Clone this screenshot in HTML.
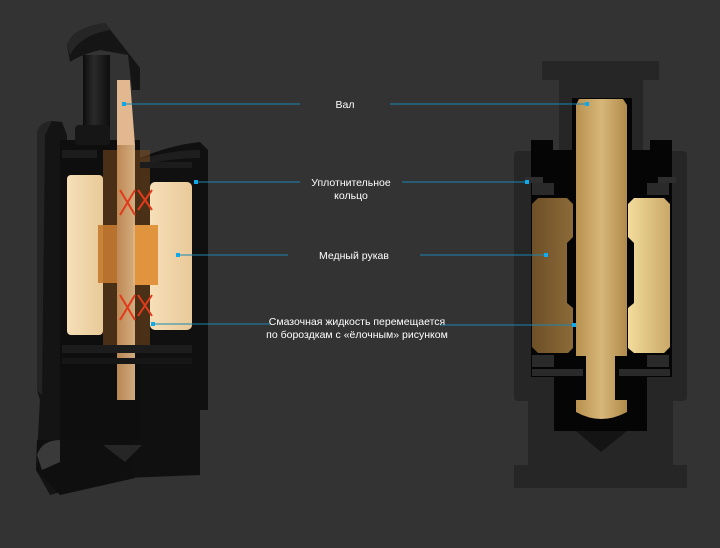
<!DOCTYPE html>
<html><head><meta charset="utf-8"><style>
body{margin:0;width:720px;height:548px;background:#333;overflow:hidden;font-family:"Liberation Sans",sans-serif}
svg{display:block}
text{fill:#fff;font-size:10.5px;font-family:"Liberation Sans",sans-serif}
</style></head><body>
<svg width="720" height="548" viewBox="0 0 720 548">
<defs>
<linearGradient id="gold" x1="0" x2="1"><stop offset="0" stop-color="#b8914f"/><stop offset=".5" stop-color="#d7b77a"/><stop offset="1" stop-color="#b08a4a"/></linearGradient>
<linearGradient id="sl" x1="0" x2="1"><stop offset="0" stop-color="#6e5028"/><stop offset="1" stop-color="#8c6a38"/></linearGradient>
<linearGradient id="sr" x1="0" x2="1"><stop offset="0" stop-color="#f3dc9c"/><stop offset="1" stop-color="#c9a868"/></linearGradient>
<linearGradient id="bk" x1="0" x2="1"><stop offset="0" stop-color="#1a1a1a"/><stop offset=".3" stop-color="#111"/><stop offset="1" stop-color="#0c0c0c"/></linearGradient>
<linearGradient id="cyl" x1="0" x2="1"><stop offset="0" stop-color="#0c0c0c"/><stop offset=".4" stop-color="#2a2a2a"/><stop offset="1" stop-color="#0e0e0e"/></linearGradient>
<linearGradient id="bei" x1="0" x2="1"><stop offset="0" stop-color="#f6dfb8"/><stop offset="1" stop-color="#e9c999"/></linearGradient>
<linearGradient id="sh" x1="0" x2="1"><stop offset="0" stop-color="#c8905a"/><stop offset="1" stop-color="#e0b888"/></linearGradient>
</defs>
<!-- LEFT render -->
<!-- outer left shell -->
<path d="M37 132 Q40 122 52 121 L62 122 L67 135 L67 490 L50 495 L36 470 L40 400 L37 390 Z" fill="#141414"/>
<path d="M37 132 Q40 122 52 121 L45 135 L42 395 L37 390 Z" fill="#242424"/>
<!-- right shell -->
<path d="M135 160 Q170 145 200 142 L208 150 L208 410 L200 410 L200 475 L125 478 L125 400 L135 400 Z" fill="#101010"/>
<path d="M138 160 Q170 150 200 150 L200 158 Q170 158 138 166 Z" fill="#1e1e1e"/>
<!-- inner block -->
<rect x="60" y="140" width="80" height="300" fill="#0e0e0e"/>
<!-- foot -->
<path d="M37 440 L130 440 L135 478 L60 495 L36 470 Z" fill="#0f0f0f"/>
<path d="M37 455 Q42 440 60 440 L60 462 L42 470 Z" fill="#3a3a3a"/>
<path d="M103 445 L142 445 L125 462 Z" fill="#262626"/>
<!-- cylinder & cap -->
<rect x="83" y="55" width="27" height="90" fill="url(#cyl)"/>
<rect x="75" y="125" width="35" height="20" rx="4" fill="#161616"/>
<path d="M67 45 Q72 28 105 23 L140 68 L140 90 L132 90 L128 55 L100 50 Q80 55 70 62 Z" fill="#151515"/>
<path d="M67 45 Q72 28 105 23 L110 30 Q80 35 70 55 Z" fill="#262626"/>
<!-- sleeves -->
<rect x="67" y="175" width="36" height="160" rx="4" fill="url(#bei)"/>
<rect x="150" y="182" width="42" height="148" rx="5" fill="url(#bei)"/>
<rect x="103" y="150" width="47" height="195" fill="#7a4a1e" opacity=".55"/>
<rect x="98" y="225" width="19" height="58" fill="#c57a30" opacity=".9"/>
<rect x="133" y="225" width="25" height="60" fill="#e0943e"/>
<rect x="117" y="145" width="18" height="255" fill="url(#sh)" opacity=".92"/>
<path d="M117 80 L130 80 L135 145 L117 145 Z" fill="#e2b890"/>
<g stroke="#e23a1a" stroke-width="2" fill="none">
<path d="M120 190 L135 215 M135 190 L120 215 M138 190 L152 210 M152 190 L138 210 M120 295 L135 320 M135 295 L120 320 M138 295 L152 316 M152 295 L138 316"/>
</g>
<rect x="62" y="150" width="35" height="8" fill="#1c1c1c"/><rect x="140" y="162" width="52" height="6" fill="#1c1c1c"/>
<rect x="62" y="345" width="130" height="8" fill="#1c1c1c"/><rect x="62" y="358" width="130" height="6" fill="#161616"/>
<!-- RIGHT cutaway -->
<g fill="#262626">
<rect x="542" y="61" width="117" height="19"/>
<rect x="559" y="79" width="84" height="74"/>
<rect x="514" y="151" width="173" height="250" rx="4"/>
<rect x="528" y="400" width="145" height="66"/>
<rect x="514" y="465" width="173" height="23"/>
</g>
<path d="M572 98 L632 98 L632 150 L650 150 L650 140 L672 140 L672 377 L647 377 L647 431 L554 431 L554 377 L531 377 L531 140 L553 140 L553 150 L572 150 Z" fill="#050505"/>
<rect x="525" y="177" width="18" height="6" fill="#2e2e2e"/><rect x="658" y="177" width="18" height="6" fill="#2e2e2e"/>
<rect x="532" y="183" width="22" height="12" fill="#2a2a2a"/><rect x="647" y="183" width="22" height="12" fill="#2a2a2a"/>
<rect x="532" y="355" width="22" height="12" fill="#2a2a2a"/><rect x="647" y="355" width="22" height="12" fill="#2a2a2a"/>
<rect x="532" y="369" width="51" height="7" fill="#2a2a2a"/><rect x="619" y="369" width="51" height="7" fill="#2a2a2a"/>
<path d="M576 431 L627 431 L601 452 Z" fill="#141414"/>
<path d="M538 198 L567 198 L573 204 L573 237 L567 243 L567 303 L573 308 L573 348 L568 353 L538 353 L532 347 L532 204 Z" fill="url(#sl)"/>
<path d="M634 198 L664 198 L670 204 L670 347 L664 353 L634 353 L628 348 L628 308 L634 303 L634 243 L628 237 L628 204 Z" fill="url(#sr)"/>
<path d="M579 99 L623 99 L627 105 L627 356 L615 356 L615 400 L627 400 L627 412 Q601 426 576 412 L576 400 L586 400 L586 356 L576 356 L576 105 Z" fill="url(#gold)"/>
<!-- connectors -->
<g stroke="#1b86b0" stroke-width="1">
<line x1="124" y1="104" x2="300" y2="104"/><line x1="390" y1="104" x2="587" y2="104"/>
<line x1="196" y1="182" x2="300" y2="182"/><line x1="402" y1="182" x2="527" y2="182"/>
<line x1="178" y1="255" x2="288" y2="255"/><line x1="420" y1="255" x2="546" y2="255"/>
<line x1="153" y1="324" x2="270" y2="324"/><line x1="440" y1="325" x2="574" y2="325"/>
</g>
<g fill="#12a8ec">
<rect x="122" y="102" width="4" height="4"/><rect x="585" y="102" width="4" height="4"/>
<rect x="194" y="180" width="4" height="4"/><rect x="525" y="180" width="4" height="4"/>
<rect x="176" y="253" width="4" height="4"/><rect x="544" y="253" width="4" height="4"/>
<rect x="151" y="322" width="4" height="4"/><rect x="572" y="323" width="4" height="4"/>
</g>
<text x="345" y="108" text-anchor="middle">Вал</text>
<text x="351" y="186" text-anchor="middle">Уплотнительное</text>
<text x="351" y="199" text-anchor="middle">кольцо</text>
<text x="354" y="259" text-anchor="middle">Медный рукав</text>
<text x="357" y="325" text-anchor="middle">Смазочная жидкость перемещается</text>
<text x="357" y="338" text-anchor="middle">по бороздкам с «ёлочным» рисунком</text>
</svg>
</body></html>
